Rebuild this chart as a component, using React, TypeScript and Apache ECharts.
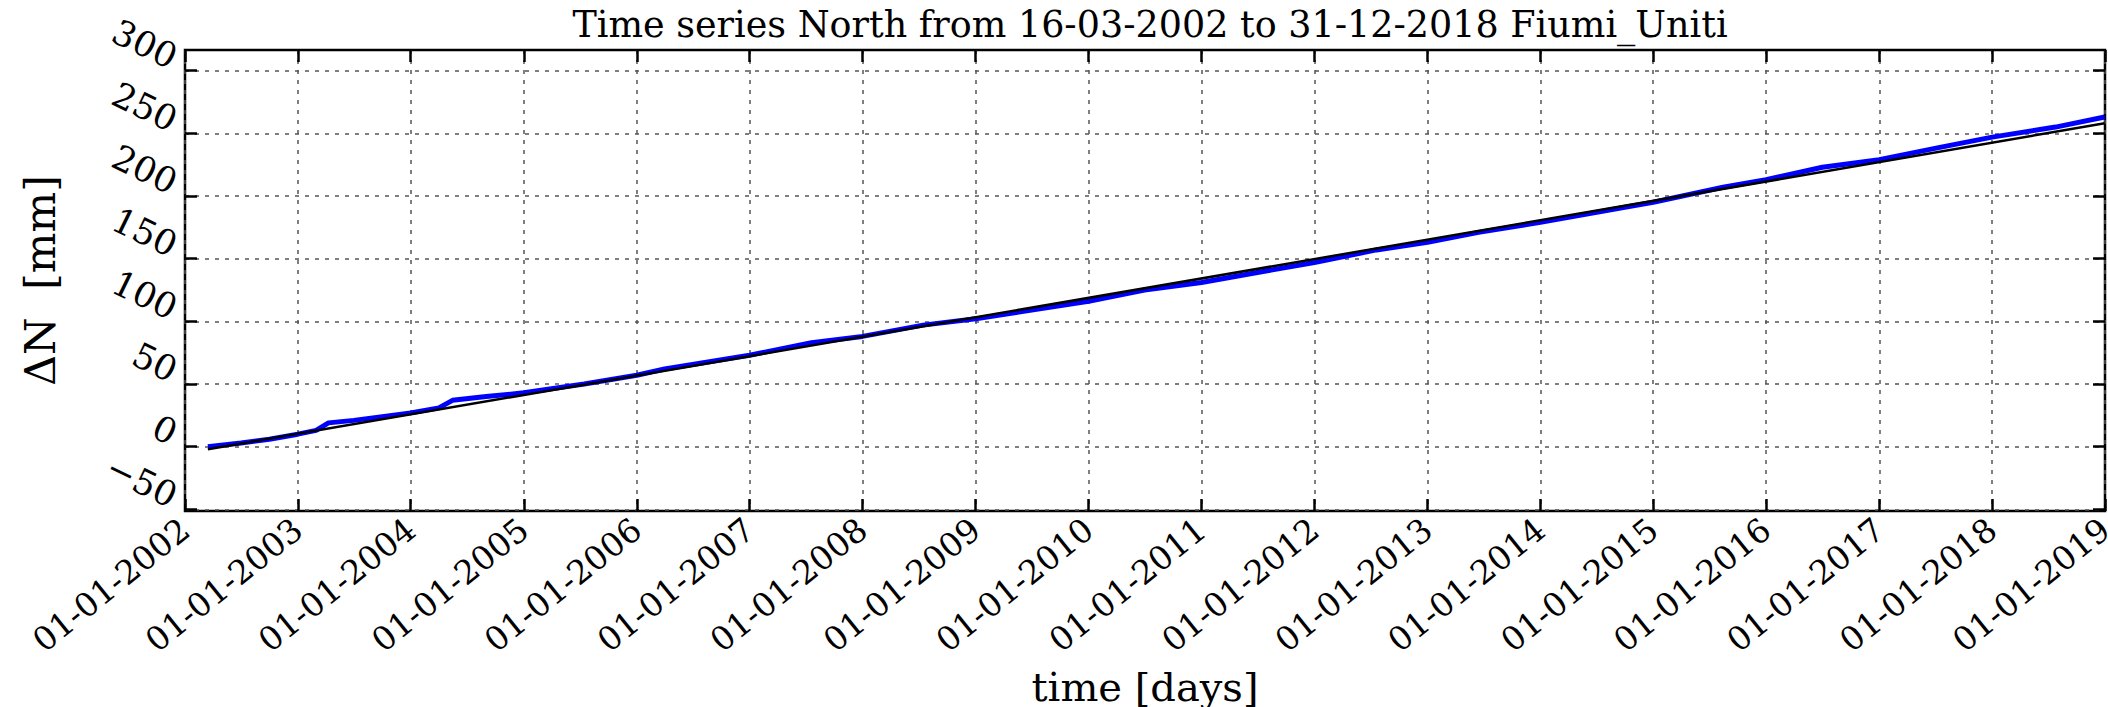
import React, { useEffect, useRef } from "react";
import * as echarts from "echarts";

const titleText = "Time series North from 16-03-2002 to 31-12-2018 Fiumi_Uniti";
const xName = "time [days]";
const yName = "ΔN  [mm]";

const tickYears = [2002, 2003, 2004, 2005, 2006, 2007, 2008, 2009, 2010, 2011, 2012, 2013, 2014, 2015, 2016, 2017, 2018, 2019];
const yTicks = [-50, 0, 50, 100, 150, 200, 250, 300];
const yMin = -51.3;
const yMax = 316.5;

const blueDates = [
  "2002-03-16", "2002-07-01", "2002-10-01", "2003-01-01", "2003-03-01", "2003-04-10", "2003-07-01", "2003-10-01",
  "2004-01-01", "2004-04-01", "2004-05-15", "2004-09-01", "2005-01-01", "2005-07-15", "2006-01-01", "2006-04-01",
  "2007-01-01", "2007-07-20", "2008-01-01", "2008-07-15", "2009-01-01", "2009-07-01", "2010-01-01", "2010-07-01",
  "2011-01-01", "2011-07-01", "2012-01-01", "2012-07-20", "2013-01-01", "2013-06-15", "2014-01-01", "2014-10-01",
  "2015-01-01", "2015-08-15", "2016-01-01", "2016-07-01", "2017-01-01", "2017-07-20", "2018-01-01", "2018-07-25",
  "2018-12-31",
];
const blueValues = [
  0, 3, 6, 10, 13, 19, 21, 24,
  27, 31, 37, 40, 43, 50, 57, 62,
  73, 83, 88, 97, 102, 109, 116, 125,
  131, 139, 147, 157, 163, 171, 179, 191,
  195, 207, 213, 223, 229, 239, 247, 255,
  263,
];

const fitDates = ["2002-03-16", "2018-12-31"];
const fitValues = [-2, 258];

const ms = (d: string) => new Date(d + "T00:00:00Z").getTime();
const pad = (n: number) => (n < 10 ? "0" + n : String(n));

export default function App() {
  const ref = useRef<HTMLDivElement>(null);
  useEffect(() => {
    if (!ref.current) return;
    const chart = echarts.init(ref.current, null, { renderer: "svg" });
    const xTicks = tickYears.map((y) => Date.UTC(y, 0, 1));
    const xMin = xTicks[0];
    const xMax = xTicks[xTicks.length - 1];
    const font = "DejaVu Serif";
    const gridLine = { show: true, lineStyle: { color: "#555", width: 1.5, type: [4, 6] as any } };
    const tick = { show: true, inside: true, length: 12, lineStyle: { color: "#000", width: 2.5 } };
    const noLine = { show: false, onZero: false };
    const xLabelFmt = (v: number) => {
      const d = new Date(v);
      return pad(d.getUTCDate()) + "-" + pad(d.getUTCMonth() + 1) + "-" + d.getUTCFullYear();
    };
    const yLabelFmt = (v: number) => {
      const r = Math.round(v);
      return r < 0 ? "\u2212" + Math.abs(r) : String(r);
    };
    chart.setOption({
      animation: false,
      backgroundColor: "#fff",
      title: {
        text: titleText,
        left: 1145,
        top: 1,
        textAlign: "center",
        textStyle: { fontFamily: font, fontSize: 36.5, fontWeight: "normal", color: "#000" },
      },
      grid: {
        left: 185,
        right: 3,
        top: 50,
        bottom: 196,
        show: true,
        borderColor: "#000",
        borderWidth: 2.5,
        backgroundColor: "transparent",
        containLabel: false,
        outerBoundsMode: "none",
      } as any,
      xAxis: [
        {
          type: "value",
          min: xMin,
          max: xMax,
          position: "bottom",
          name: xName,
          nameLocation: "middle",
          nameGap: 156,
          nameMoveOverlap: false,
          nameTextStyle: { fontFamily: font, fontSize: 40, color: "#000" },
          axisLine: noLine,
          axisTick: { ...tick, customValues: xTicks },
          axisLabel: {
            customValues: xTicks,
            formatter: xLabelFmt,
            rotate: 39,
            margin: 14,
            fontFamily: font,
            fontSize: 33,
            color: "#000",
            hideOverlap: false,
          },
          splitLine: gridLine,
        },
        {
          type: "value",
          min: xMin,
          max: xMax,
          position: "top",
          axisLine: noLine,
          axisTick: { ...tick, customValues: xTicks },
          axisLabel: { show: false, customValues: xTicks },
          splitLine: { show: false },
        },
      ],
      yAxis: [
        {
          type: "value",
          min: yMin,
          max: yMax,
          position: "left",
          name: yName,
          nameLocation: "middle",
          nameGap: 124,
          nameMoveOverlap: false,
          nameTextStyle: { fontFamily: font, fontSize: 43, color: "#000" },
          axisLine: noLine,
          axisTick: { ...tick, customValues: yTicks },
          axisLabel: {
            customValues: yTicks,
            formatter: yLabelFmt,
            rotate: -26,
            margin: 16,
            verticalAlign: "bottom",
            lineHeight: 26,
            fontFamily: font,
            fontSize: 35,
            color: "#000",
            hideOverlap: false,
          },
          splitLine: gridLine,
        },
        {
          type: "value",
          min: yMin,
          max: yMax,
          position: "right",
          axisLine: noLine,
          axisTick: { ...tick, customValues: yTicks },
          axisLabel: { show: false, customValues: yTicks },
          splitLine: { show: false },
        },
      ],
      series: [
        {
          type: "line",
          name: "data",
          data: blueDates.map((d, i) => [ms(d), blueValues[i]]),
          showSymbol: false,
          lineStyle: { color: "#0000ff", width: 5 },
          itemStyle: { color: "#0000ff" },
          z: 2,
        },
        {
          type: "line",
          name: "fit",
          data: fitDates.map((d, i) => [ms(d), fitValues[i]]),
          showSymbol: false,
          lineStyle: { color: "#000", width: 2.5 },
          itemStyle: { color: "#000" },
          z: 3,
        },
      ],
    });
    return () => chart.dispose();
  }, []);
  return (
    <div
      ref={ref}
      style={{ position: "absolute", left: 0, top: 0, width: 2108, height: 707, background: "#fff" }}
    />
  );
}
